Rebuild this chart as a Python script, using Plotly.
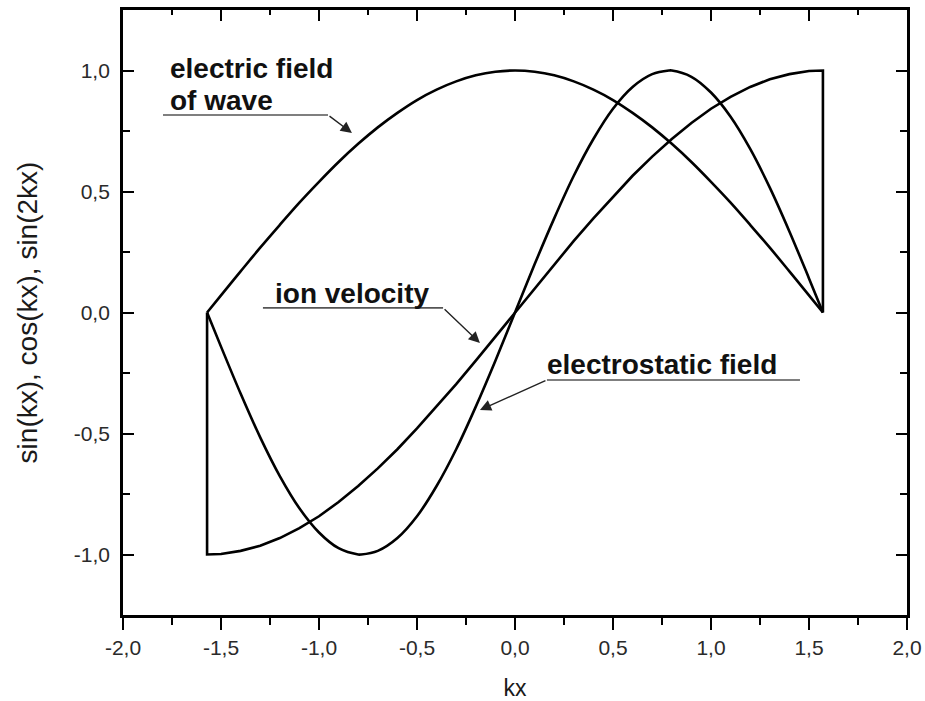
import plotly.graph_objects as go

# ---- data ----
x_cos = [-1.571, -1.5, -1.4, -1.3, -1.2, -1.1, -1.0, -0.9, -0.8, -0.7, -0.6, -0.5, -0.4, -0.3, -0.2, -0.1,
         0.0, 0.1, 0.2, 0.3, 0.4, 0.5, 0.6, 0.7, 0.8, 0.9, 1.0, 1.1, 1.2, 1.3, 1.4, 1.5, 1.571]
y_cos = [0.000, 0.071, 0.170, 0.268, 0.362, 0.454, 0.540, 0.622, 0.697, 0.765, 0.825, 0.878, 0.921, 0.955, 0.980, 0.995,
         1.000, 0.995, 0.980, 0.955, 0.921, 0.878, 0.825, 0.765, 0.697, 0.622, 0.540, 0.454, 0.362, 0.268, 0.170, 0.071, 0.000]

x_sin = [-1.571, -1.571, -1.5, -1.4, -1.3, -1.2, -1.1, -1.0, -0.9, -0.8, -0.7, -0.6, -0.5, -0.4, -0.3, -0.2, -0.1,
         0.0, 0.1, 0.2, 0.3, 0.4, 0.5, 0.6, 0.7, 0.8, 0.9, 1.0, 1.1, 1.2, 1.3, 1.4, 1.5, 1.571, 1.571]
y_sin = [0.000, -1.000, -0.998, -0.985, -0.964, -0.932, -0.891, -0.842, -0.783, -0.717, -0.644, -0.565, -0.479, -0.389, -0.296, -0.199, -0.100,
         0.000, 0.100, 0.199, 0.296, 0.389, 0.479, 0.565, 0.644, 0.717, 0.783, 0.842, 0.891, 0.932, 0.964, 0.985, 0.998, 1.000, 0.000]

x_sin2 = [-1.571, -1.5, -1.4, -1.3, -1.2, -1.1, -1.0, -0.9, -0.8, -0.785, -0.7, -0.6, -0.5, -0.4, -0.3, -0.2, -0.1,
          0.0, 0.1, 0.2, 0.3, 0.4, 0.5, 0.6, 0.7, 0.785, 0.8, 0.9, 1.0, 1.1, 1.2, 1.3, 1.4, 1.5, 1.571]
y_sin2 = [0.000, -0.141, -0.335, -0.516, -0.676, -0.809, -0.909, -0.974, -1.000, -1.000, -0.985, -0.932, -0.842, -0.717, -0.565, -0.389, -0.199,
          0.000, 0.199, 0.389, 0.565, 0.717, 0.842, 0.932, 0.985, 1.000, 1.000, 0.974, 0.909, 0.809, 0.676, 0.516, 0.335, 0.141, 0.000]

x_tickvals = [-2.0, -1.5, -1.0, -0.5, 0.0, 0.5, 1.0, 1.5, 2.0]
x_ticktext = ["-2,0", "-1,5", "-1,0", "-0,5", "0,0", "0,5", "1,0", "1,5", "2,0"]
y_tickvals = [-1.0, -0.5, 0.0, 0.5, 1.0]
y_ticktext = ["-1,0", "-0,5", "0,0", "0,5", "1,0"]

line_style = dict(color="black", width=2.6)

fig = go.Figure()
fig.add_trace(go.Scatter(x=x_cos, y=y_cos, mode="lines", line=dict(line_style, shape="spline", smoothing=1.0), name="cos(kx)"))
fig.add_trace(go.Scatter(x=x_sin, y=y_sin, mode="lines", line=dict(line_style, shape="linear"), name="sin(kx)"))
fig.add_trace(go.Scatter(x=x_sin2, y=y_sin2, mode="lines", line=dict(line_style, shape="spline", smoothing=1.0), name="sin(2kx)"))
# dummy trace to activate top axis
fig.add_trace(go.Scatter(x=[0], y=[0], xaxis="x2", mode="markers", marker=dict(opacity=0), hoverinfo="skip", showlegend=False))

tickfont = dict(family="Liberation Sans, Arial, sans-serif", size=21, color="#2a2a2a")

fig.update_layout(
    width=925, height=701,
    margin=dict(l=123, r=18, t=10, b=86),
    paper_bgcolor="white", plot_bgcolor="white",
    showlegend=False,
    xaxis=dict(range=[-2, 2], tickvals=x_tickvals, ticktext=x_ticktext, ticks="outside", ticklen=12, tickwidth=2.2,
               tickcolor="black", showline=True, linewidth=2.8, linecolor="black", showgrid=False, zeroline=False,
               tickfont=tickfont, automargin=False,
               minor=dict(ticks="outside", ticklen=7, tickwidth=2.2, tickcolor="black", dtick=0.25, tick0=0, showgrid=False),
               title=dict(text="kx", font=dict(family="Liberation Sans, Arial, sans-serif", size=23, color="#1a1a1a"), standoff=24)),
    xaxis2=dict(range=[-2, 2], overlaying="x", side="top", anchor="y", tickvals=x_tickvals, showticklabels=False,
                ticks="inside", ticklen=11, tickwidth=2.2, tickcolor="black", showline=True, linewidth=2.8, linecolor="black",
                showgrid=False, zeroline=False, automargin=False,
                minor=dict(ticks="inside", ticklen=5, tickwidth=2.2, tickcolor="black", dtick=0.25, tick0=0, showgrid=False)),
    yaxis=dict(range=[-1.25, 1.25], tickvals=y_tickvals, ticktext=y_ticktext, ticks="inside", ticklen=11, tickwidth=2.2,
               tickcolor="black", showline=True, mirror="ticks", linewidth=2.8, linecolor="black", showgrid=False, zeroline=False,
               tickfont=tickfont, ticklabelstandoff=6, automargin=False,
               minor=dict(ticks="inside", ticklen=7, tickwidth=2.2, tickcolor="black", dtick=0.25, tick0=0, showgrid=False),
               title=dict(text="sin(kx), cos(kx), sin(2kx)", font=dict(family="Liberation Sans, Arial, sans-serif", size=28, color="#1a1a1a"), standoff=28)),
)

labfont = dict(family="Liberation Sans, Arial, sans-serif", size=28, color="#111111")

def label(text, x, y):
    fig.add_annotation(x=x, y=y, xref="x", yref="y", text="<b>%s</b>" % text, showarrow=False,
                       xanchor="left", yanchor="middle", font=labfont)

def leader(x0, x1, y):
    fig.add_shape(type="line", x0=x0, x1=x1, y0=y, y1=y, xref="x", yref="y", line=dict(color="#555555", width=1.6))

def arrow(x0, y0, x1, y1):
    fig.add_annotation(x=x1, y=y1, ax=x0, ay=y0, xref="x", yref="y", axref="x", ayref="y", text="",
                       showarrow=True, arrowhead=2, arrowsize=1.6, arrowwidth=1.4, arrowcolor="#222222")

# electric field of wave
label("electric field", -1.77, 1.01)
label("of wave", -1.77, 0.875)
leader(-1.796, -0.954, 0.816)
arrow(-0.954, 0.816, -0.832, 0.742)

# ion velocity
label("ion velocity", -1.235, 0.08)
leader(-1.286, -0.367, 0.019)
arrow(-0.367, 0.019, -0.179, -0.126)

# electrostatic field
label("electrostatic field", 0.155, -0.215)
leader(0.163, 1.454, -0.279)
arrow(0.163, -0.279, -0.179, -0.403)

fig.write_html("out.html")
